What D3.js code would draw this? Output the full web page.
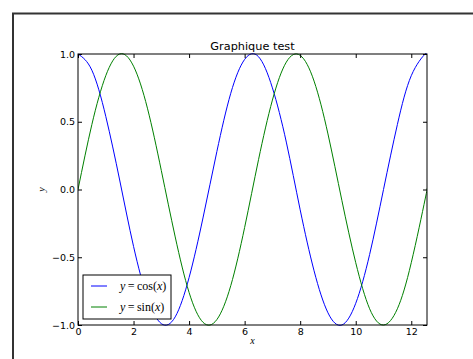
<!DOCTYPE html>
<html lang="en">
<head>
<meta charset="utf-8">
<title>Graphique test</title>
<script src="https://d3js.org/d3.v7.min.js"></script>
<style>
  body { margin: 0; background: #fff; }
  text { font-family: "DejaVu Sans", sans-serif; fill: #000; }
  .math { font-family: "Liberation Serif", "DejaVu Serif", serif; }
</style>
</head>
<body>
<div id="chart"></div>
<script type="text/javascript">

// values
var xs   = [0, 0.5, 1, 1.5, 2, 2.5, 3, 3.5, 4, 4.5, 5, 5.5, 6, 6.5, 7, 7.5, 8, 8.5, 9, 9.5, 10, 10.5, 11, 11.5, 12, 12.5, 12.57];
var cosY = [1.00, 0.88, 0.54, 0.07, -0.42, -0.80, -0.99, -0.94, -0.65, -0.21, 0.28, 0.71, 0.96, 0.98, 0.75, 0.35, -0.15, -0.60, -0.91, -1.00, -0.84, -0.48, 0.00, 0.48, 0.84, 1.00, 1.00];
var sinY = [0.00, 0.48, 0.84, 1.00, 0.91, 0.60, 0.14, -0.35, -0.76, -0.98, -0.96, -0.71, -0.28, 0.22, 0.66, 0.94, 0.99, 0.80, 0.41, -0.08, -0.54, -0.88, -1.00, -0.88, -0.54, -0.07, 0.00];
var xTicks = [0, 2, 4, 6, 8, 10, 12];
var yTicks = [-1.0, -0.5, 0.0, 0.5, 1.0];
var seriesNames = ["cos", "sin"];
var seriesColors = ["#0000ff", "#008000"];

var w = 473, h = 359;
var pLeft = 78, pTop = 54, pRight = 427, pBottom = 325;

var svg = d3.select("#chart").append("svg")
  .attr("width", w)
  .attr("height", h);

// outer figure frame
svg.append("rect")
  .attr("x", 13).attr("y", 13.5)
  .attr("width", w).attr("height", h)
  .attr("fill", "none")
  .attr("stroke", "#333")
  .attr("stroke-width", 2);

var x = d3.scaleLinear().domain([0, 12.566]).range([pLeft, pRight]);
var y = d3.scaleLinear().domain([-1, 1]).range([pBottom, pTop]);

svg.append("clipPath").attr("id", "clip")
  .append("rect")
  .attr("x", pLeft).attr("y", pTop - 1)
  .attr("width", pRight - pLeft).attr("height", pBottom - pTop + 2);

var line = d3.line()
  .x(function(d) { return x(d[0]); })
  .y(function(d) { return y(d[1]); })
  .curve(d3.curveNatural);

var series = [cosY, sinY];
series.forEach(function(vals, i) {
  svg.append("path")
    .datum(xs.map(function(v, j) { return [v, vals[j]]; }))
    .attr("clip-path", "url(#clip)")
    .attr("fill", "none")
    .attr("stroke", seriesColors[i])
    .attr("stroke-width", 1)
    .attr("d", line);
});

// axes, ticks inside on all four sides
var fmt = function(d) { return d3.format(".1f")(d).replace("-", "\u2212"); };
var styleLabels = function(g) {
  g.select(".domain").remove();
  g.selectAll("text").attr("font-size", 9.5).attr("font-family", "DejaVu Sans").attr("fill", "#000");
};

svg.append("g")
  .attr("transform", "translate(0," + pBottom + ")")
  .call(d3.axisBottom(x).tickValues(xTicks).tickSizeInner(-4).tickSizeOuter(0).tickPadding(3).tickFormat(d3.format("d")))
  .call(styleLabels);

svg.append("g")
  .attr("transform", "translate(0," + pTop + ")")
  .call(d3.axisTop(x).tickValues(xTicks).tickSizeInner(-4).tickSizeOuter(0).tickFormat(""))
  .call(styleLabels);

svg.append("g")
  .attr("transform", "translate(" + pLeft + ",0)")
  .call(d3.axisLeft(y).tickValues(yTicks).tickSizeInner(-4).tickSizeOuter(0).tickPadding(3).tickFormat(fmt))
  .call(styleLabels);

svg.append("g")
  .attr("transform", "translate(" + pRight + ",0)")
  .call(d3.axisRight(y).tickValues(yTicks).tickSizeInner(-4).tickSizeOuter(0).tickFormat(""))
  .call(styleLabels);

svg.append("rect")
  .attr("x", pLeft).attr("y", pTop)
  .attr("width", pRight - pLeft).attr("height", pBottom - pTop)
  .attr("fill", "none")
  .attr("stroke", "#000")
  .attr("stroke-width", 1);

// title and labels
svg.append("text").text("Graphique test")
  .attr("x", (pLeft + pRight) / 2).attr("y", 50)
  .attr("text-anchor", "middle")
  .attr("font-size", 11.3);

svg.append("text").attr("class", "math").text("x")
  .attr("x", (pLeft + pRight) / 2).attr("y", 344)
  .attr("text-anchor", "middle")
  .attr("font-size", 10)
  .attr("font-style", "italic");

svg.append("text").attr("class", "math").text("y")
  .attr("text-anchor", "middle")
  .attr("font-size", 10)
  .attr("font-style", "italic")
  .attr("transform", "translate(45," + y(0) + ") rotate(-90)");

// legend
var lg = svg.append("g").attr("transform", "translate(83,275)");
lg.append("rect")
  .attr("width", 88).attr("height", 44)
  .attr("fill", "#fff")
  .attr("stroke", "#000")
  .attr("stroke-width", 1);

seriesNames.forEach(function(name, i) {
  var yy = 11 + i * 21;
  lg.append("line")
    .attr("x1", 8).attr("x2", 24)
    .attr("y1", yy).attr("y2", yy)
    .attr("stroke", seriesColors[i]);
  var t = lg.append("text").attr("class", "math")
    .attr("x", 37).attr("y", yy + 4)
    .attr("font-size", 12);
  t.append("tspan").attr("font-style", "italic").text("y");
  t.append("tspan").text("\u2009=\u2009" + name + "(");
  t.append("tspan").attr("font-style", "italic").text("x");
  t.append("tspan").text(")");
});

</script>
</body>
</html>
